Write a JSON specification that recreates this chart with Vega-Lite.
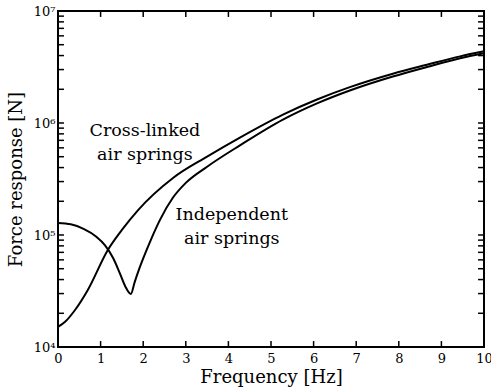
{
  "$schema": "https://vega.github.io/schema/vega-lite/v6.json",
  "width": 426,
  "height": 336,
  "autosize": {"type": "none"},
  "padding": {"left": 58, "top": 11, "right": 7, "bottom": 45},
  "background": "white",
  "config": {
    "view": {"stroke": "black", "strokeWidth": 2},
    "font": "DejaVu Serif",
    "axis": {
      "grid": false,
      "domain": false,
      "ticks": false,
      "labelColor": "black",
      "titleColor": "black",
      "labelFont": "DejaVu Serif",
      "titleFont": "DejaVu Serif",
      "labelFontSize": 13,
      "titleFontSize": 18,
      "titleFontWeight": "normal"
    }
  },
  "datasets": {
    "curves": [
      {"s": "Cross-linked", "f": 0.0, "v": 15100},
      {"s": "Cross-linked", "f": 0.16, "v": 16700},
      {"s": "Cross-linked", "f": 0.4, "v": 21400},
      {"s": "Cross-linked", "f": 0.7, "v": 32300},
      {"s": "Cross-linked", "f": 1.17, "v": 73500},
      {"s": "Cross-linked", "f": 1.5, "v": 111000},
      {"s": "Cross-linked", "f": 1.88, "v": 167000},
      {"s": "Cross-linked", "f": 2.7, "v": 323000},
      {"s": "Cross-linked", "f": 3.5, "v": 501000},
      {"s": "Cross-linked", "f": 4.27, "v": 741000},
      {"s": "Cross-linked", "f": 5.28, "v": 1189000},
      {"s": "Cross-linked", "f": 6.08, "v": 1622000},
      {"s": "Cross-linked", "f": 6.85, "v": 2089000},
      {"s": "Cross-linked", "f": 7.86, "v": 2754000},
      {"s": "Cross-linked", "f": 8.66, "v": 3311000},
      {"s": "Cross-linked", "f": 9.44, "v": 3936000},
      {"s": "Cross-linked", "f": 10.0, "v": 4365000},
      {"s": "Independent", "f": 0.0, "v": 128000},
      {"s": "Independent", "f": 0.3, "v": 124500},
      {"s": "Independent", "f": 0.6, "v": 113500},
      {"s": "Independent", "f": 0.9, "v": 96600},
      {"s": "Independent", "f": 1.1, "v": 81300},
      {"s": "Independent", "f": 1.3, "v": 61700},
      {"s": "Independent", "f": 1.45, "v": 45700},
      {"s": "Independent", "f": 1.58, "v": 34700},
      {"s": "Independent", "f": 1.71, "v": 29700},
      {"s": "Independent", "f": 1.8, "v": 38000},
      {"s": "Independent", "f": 1.9, "v": 49000},
      {"s": "Independent", "f": 2.0, "v": 61700},
      {"s": "Independent", "f": 2.2, "v": 94400},
      {"s": "Independent", "f": 2.4, "v": 138000},
      {"s": "Independent", "f": 2.7, "v": 216000},
      {"s": "Independent", "f": 3.0, "v": 292000},
      {"s": "Independent", "f": 3.5, "v": 407000},
      {"s": "Independent", "f": 4.27, "v": 631000},
      {"s": "Independent", "f": 5.28, "v": 1072000},
      {"s": "Independent", "f": 6.08, "v": 1496000},
      {"s": "Independent", "f": 6.85, "v": 1950000},
      {"s": "Independent", "f": 7.86, "v": 2600000},
      {"s": "Independent", "f": 8.66, "v": 3162000},
      {"s": "Independent", "f": 9.44, "v": 3784000},
      {"s": "Independent", "f": 10.0, "v": 4188000}
    ],
    "labels": [
      {"f": 2.04, "v": 850000, "t": "Cross-linked"},
      {"f": 2.04, "v": 520000, "t": "air springs"},
      {"f": 4.08, "v": 152000, "t": "Independent"},
      {"f": 4.08, "v": 92000, "t": "air springs"}
    ],
    "yminor": [
      {"v": 20000}, {"v": 30000}, {"v": 40000}, {"v": 50000}, {"v": 60000}, {"v": 70000}, {"v": 80000}, {"v": 90000},
      {"v": 100000}, {"v": 200000}, {"v": 300000}, {"v": 400000}, {"v": 500000}, {"v": 600000}, {"v": 700000}, {"v": 800000}, {"v": 900000},
      {"v": 1000000}, {"v": 2000000}, {"v": 3000000}, {"v": 4000000}, {"v": 5000000}, {"v": 6000000}, {"v": 7000000}, {"v": 8000000}, {"v": 9000000}
    ],
    "xminor": [
      {"f": 1}, {"f": 2}, {"f": 3}, {"f": 4}, {"f": 5}, {"f": 6}, {"f": 7}, {"f": 8}, {"f": 9}
    ]
  },
  "layer": [
    {
      "data": {"name": "curves"},
      "mark": {"type": "line", "interpolate": "monotone", "strokeWidth": 2, "color": "black"},
      "encoding": {
        "x": {
          "field": "f", "type": "quantitative",
          "scale": {"domain": [0, 10], "nice": false, "zero": false},
          "axis": {
            "orient": "bottom",
            "values": [0, 1, 2, 3, 4, 5, 6, 7, 8, 9, 10],
            "labelPadding": 5,
            "title": "Frequency [Hz]",
            "titlePadding": 3,
            "labelFlush": false
          }
        },
        "y": {
          "field": "v", "type": "quantitative",
          "scale": {"type": "log", "domain": [10000, 10000000], "nice": false},
          "axis": {
            "orient": "left",
            "values": [10000, 100000, 1000000, 10000000],
            "labelPadding": 3,
            "labelOverlap": false,
            "labelFlush": false,
            "labelExpr": "datum.value == 10000 ? '10⁴' : datum.value == 100000 ? '10⁵' : datum.value == 1000000 ? '10⁶' : '10⁷'",
            "title": "Force response [N]",
            "titlePadding": 8
          }
        },
        "detail": {"field": "s", "type": "nominal"}
      }
    },
    {
      "data": {"name": "labels"},
      "mark": {"type": "text", "fontSize": 17.5, "font": "DejaVu Serif", "color": "black", "align": "center", "baseline": "middle"},
      "encoding": {
        "x": {"field": "f", "type": "quantitative", "axis": null},
        "y": {"field": "v", "type": "quantitative", "axis": null},
        "text": {"field": "t", "type": "nominal"}
      }
    },
    {
      "data": {"name": "yminor"},
      "mark": {"type": "rule", "strokeWidth": 1.5, "color": "black"},
      "encoding": {
        "x": {"datum": 0, "type": "quantitative", "axis": null},
        "x2": {"datum": 0.14},
        "y": {"field": "v", "type": "quantitative", "axis": null}
      }
    },
    {
      "data": {"name": "yminor"},
      "mark": {"type": "rule", "strokeWidth": 1.5, "color": "black"},
      "encoding": {
        "x": {"datum": 9.86, "type": "quantitative", "axis": null},
        "x2": {"datum": 10},
        "y": {"field": "v", "type": "quantitative", "axis": null}
      }
    },
    {
      "data": {"name": "xminor"},
      "mark": {"type": "rule", "strokeWidth": 1.5, "color": "black"},
      "encoding": {
        "x": {"field": "f", "type": "quantitative", "axis": null},
        "y": {"datum": 10000, "type": "quantitative", "axis": null},
        "y2": {"datum": 11300}
      }
    },
    {
      "data": {"name": "xminor"},
      "mark": {"type": "rule", "strokeWidth": 1.5, "color": "black"},
      "encoding": {
        "x": {"field": "f", "type": "quantitative", "axis": null},
        "y": {"datum": 8850000, "type": "quantitative", "axis": null},
        "y2": {"datum": 10000000}
      }
    }
  ],
  "resolve": {"axis": {"x": "independent", "y": "independent"}}
}
